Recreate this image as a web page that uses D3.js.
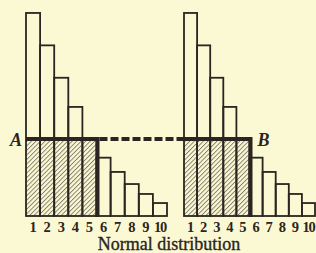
<!DOCTYPE html>
<html>
<head>
<meta charset="utf-8">
<script src="https://cdn.jsdelivr.net/npm/d3@7"></script>
<style>
  html, body { margin: 0; padding: 0; background: #fbf9d4; }
  svg { display: block; }
</style>
</head>
<body>
<div id="chart"></div>
<script>
// data
const ranks = ["1", "2", "3", "4", "5", "6", "7", "8", "9", "10"];
const counts = [94, 79, 64, 50.5, 35.6, 27, 20.4, 14.8, 10.2, 6];
const shadedRanks = ["1", "2", "3", "4", "5"];
const levelLabels = ["A", "B"];
const caption = "Normal distribution";

const width = 316, height = 253;
const ink = "#2a2521";
const base = 216;

const svg = d3.select("#chart")
  .append("svg")
    .attr("width", width)
    .attr("height", height);

svg.append("rect")
    .attr("width", width)
    .attr("height", height)
    .attr("fill", "#fbf9d4");

const pattern = svg.append("defs")
  .append("pattern")
    .attr("id", "hatch")
    .attr("patternUnits", "userSpaceOnUse")
    .attr("width", 3.2)
    .attr("height", 4)
    .attr("patternTransform", "rotate(45)");
pattern.append("line")
    .attr("x1", 0.5).attr("y1", 0)
    .attr("x2", 0.5).attr("y2", 4)
    .attr("stroke", "#5e574d")
    .attr("stroke-width", 0.8);

const y = d3.scaleLinear()
  .domain([0, 100])
  .range([base, 0]);

const level = counts[ranks.indexOf(shadedRanks[shadedRanks.length - 1])];

const panels = [
  { x: d3.scaleBand().domain(ranks).range([26, 167]), label: levelLabels[0] },
  { x: d3.scaleBand().domain(ranks).range([184, 315]), label: levelLabels[1] }
];

panels.forEach((p, i) => {
  const g = svg.append("g");
  const x = p.x;
  const bw = x.bandwidth();
  const x0 = x(shadedRanks[0]);
  const x1 = x(shadedRanks[shadedRanks.length - 1]) + bw;

  // hatched block under the level line
  g.append("rect")
      .attr("x", x0)
      .attr("y", y(level))
      .attr("width", x1 - x0)
      .attr("height", base - y(level))
      .attr("fill", "url(#hatch)");

  g.selectAll(".bar")
    .data(ranks)
    .join("rect")
      .attr("x", d => x(d))
      .attr("y", (d, j) => y(counts[j]))
      .attr("width", bw)
      .attr("height", (d, j) => base - y(counts[j]))
      .attr("fill", "none")
      .attr("stroke", ink)
      .attr("stroke-width", 1.8);

  // heavy outline of block
  g.append("path")
      .attr("d", `M${x0},${y(level)}H${x1 + 1}V${base + 1}`)
      .attr("fill", "none")
      .attr("stroke", ink)
      .attr("stroke-width", 4);

  g.selectAll(".tick")
    .data(ranks)
    .join("text")
      .attr("x", d => x(d) + bw / 2)
      .attr("y", 232)
      .attr("text-anchor", "middle")
      .attr("font-family", "Liberation Serif, serif")
      .attr("font-weight", "bold")
      .attr("font-size", 14.5)
      .attr("letter-spacing", d => d === "10" ? -1.2 : 0)
      .attr("fill", ink)
      .text(d => d);

  g.append("text")
      .attr("x", i === 0 ? x0 - 4 : x1 + 8)
      .attr("y", y(level) + 7)
      .attr("text-anchor", i === 0 ? "end" : "start")
      .attr("font-family", "Liberation Serif, serif")
      .attr("font-style", "italic")
      .attr("font-weight", "bold")
      .attr("font-size", 18)
      .attr("fill", ink)
      .text(p.label);
});

// dashed link between the two levels
const leftEnd = panels[0].x(shadedRanks[shadedRanks.length - 1]) + panels[0].x.bandwidth() + 3;
const rightStart = panels[1].x(shadedRanks[0]);
svg.append("line")
    .attr("x1", leftEnd)
    .attr("x2", rightStart)
    .attr("y1", y(level))
    .attr("y2", y(level))
    .attr("stroke", ink)
    .attr("stroke-width", 4)
    .attr("stroke-dasharray", "8,3");

svg.append("text")
    .attr("x", 169)
    .attr("y", 250)
    .attr("text-anchor", "middle")
    .attr("font-family", "Liberation Serif, serif")
    .attr("font-size", 18)
    .attr("fill", ink)
    .attr("stroke", ink)
    .attr("stroke-width", 0.35)
    .text(caption);
</script>
</body>
</html>
